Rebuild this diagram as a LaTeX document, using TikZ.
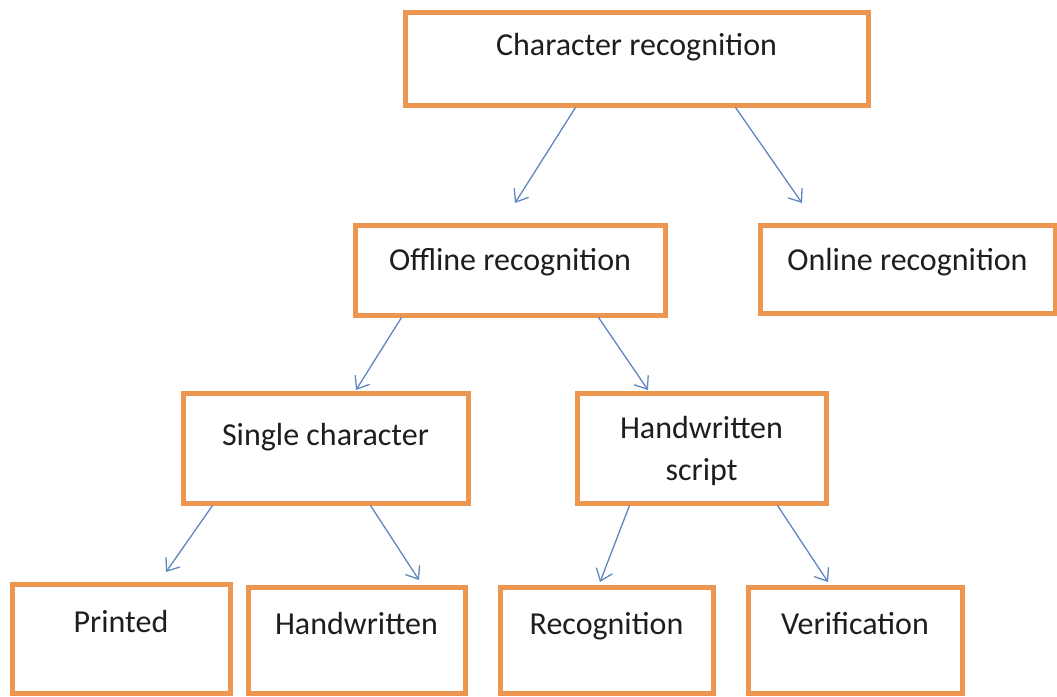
\documentclass[tikz,border=0pt]{standalone}
\usepackage{fontspec}
\setmainfont{Carlito}
\usetikzlibrary{arrows.meta,calc}
\definecolor{boxorange}{RGB}{237,150,80}
\definecolor{arrowblue}{RGB}{95,135,190}
\definecolor{txtgray}{RGB}{30,30,30}
\begin{document}
\begin{tikzpicture}[x=1pt,y=-1pt,
  box/.style={draw=boxorange, line width=5pt, inner sep=0pt, fill=white, text=txtgray,
              font=\fontsize{32}{40}\selectfont},
  conn/.style={draw=arrowblue, line width=1.3pt, -{Straight Barb[length=11pt,width=17pt]}}]
\useasboundingbox (0,0) rectangle (1057,696);
% level 0
\node[box, minimum width=463pt, text height=43pt, text depth=50pt] (A) at (636.5,58.5) {Character recognition};
% level 1
\node[box, minimum width=310pt, text height=45pt, text depth=45pt] (B) at (510,270) {Offline recognition};
\node[box, minimum width=295pt, text height=45pt, text depth=43pt] (C) at (907.5,269) {Online recognition};
% level 2
\node[box, minimum width=285pt, text height=52pt, text depth=58pt] (D) at (325.5,448) {Single character};
\node[box, minimum width=249pt] (E) at (701.5,448)
  {\raisebox{0pt}[45pt][65pt]{\begin{tabular}[t]{@{}c@{}}Handwritten\\[2pt]script\end{tabular}}};
% level 3
\node[box, minimum width=218pt, text height=48pt, text depth=61pt] (F) at (121,638.5) {Printed};
\node[box, minimum width=217pt, text height=47pt, text depth=59pt] (G) at (356.5,640) {Handwritten};
\node[box, minimum width=213pt, text height=47pt, text depth=59pt] (H) at (606.5,640) {Recognition};
\node[box, minimum width=214pt, text height=47pt, text depth=59pt] (I) at (855,640) {Verification};
% arrow ends
\coordinate (eAB) at (515,203);
\coordinate (eAC) at (802,203);
\coordinate (eBD) at (356,390);
\coordinate (eBE) at (648,390);
\coordinate (eDF) at (166,572);
\coordinate (eDG) at (419,580);
\coordinate (eEH) at (600,582);
\coordinate (eEI) at (828,582);
% connectors
\draw[conn] ($(A.south west)+(173,0)$) -- (eAB);
\draw[conn] ($(A.south west)+(333,0)$) -- (eAC);
\draw[conn] ($(B.south west)+(49,0)$) -- (eBD);
\draw[conn] ($(B.south west)+(246,0)$) -- (eBE);
\draw[conn] ($(D.south west)+(32,0)$) -- (eDF);
\draw[conn] ($(D.south west)+(190,0)$) -- (eDG);
\draw[conn] ($(E.south west)+(55,0)$) -- (eEH);
\draw[conn] ($(E.south west)+(203,0)$) -- (eEI);
\end{tikzpicture}
\end{document}
